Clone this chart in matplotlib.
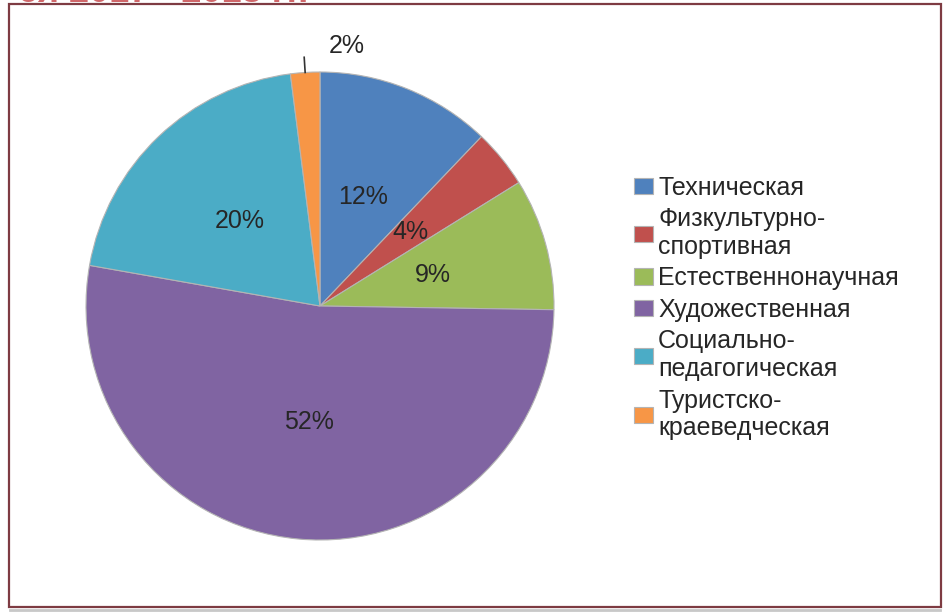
import numpy as np
import matplotlib
matplotlib.use("Agg")
import matplotlib.pyplot as plt
from matplotlib.patches import Rectangle
from matplotlib.lines import Line2D

plt.rcParams["font.family"] = ["Liberation Sans", "DejaVu Sans"]

# доля направлений, %
categories = ["Техническая", "Физкультурно-\nспортивная", "Естественнонаучная",
              "Художественная", "Социально-\nпедагогическая", "Туристско-\nкраеведческая"]
shares = [12, 4, 9, 52, 20, 2]
colors = ["#4F81BD", "#C0504D", "#9BBB59", "#8064A2", "#4BACC6", "#F79646"]

W, H = 947, 613
FS = 18
fig = plt.figure(figsize=(W / 100, H / 100), dpi=100)
fig.patch.set_facecolor("white")

# рамка слайда
fig.add_artist(Rectangle((9 / W, 1 - 607 / H), 932 / W, 603 / H,
                         transform=fig.transFigure, fill=False,
                         edgecolor="#7E3B42", lw=1.6))
fig.add_artist(Line2D([10 / W, 940 / W], [1 - 609.5 / H] * 2,
                      transform=fig.transFigure, color="#C8C8C8", lw=2))
# заголовок выше рамки (срезан краем)
fig.text(18 / W, 1 - 1.5 / H, "ся 2017 - 2018 гг.", color="#D0676A",
         fontsize=26, fontweight="bold", va="baseline", ha="left")

cx, cy, r = 320, 306, 234
ax = fig.add_axes([(cx - r) / W, (H - cy - r) / H, 2 * r / W, 2 * r / H])
ax.axis("off")

wedges, texts, autotexts = ax.pie(
    shares, colors=colors, startangle=90, counterclock=False,
    autopct=lambda p: f"{p * sum(shares) / 100:.0f}%", pctdistance=0.5,
    wedgeprops=dict(edgecolor="#B4B4B4", linewidth=0.8),
    textprops=dict(fontsize=FS, color="#262626"), radius=1.0, frame=False)
ax.set_xlim(-1, 1)
ax.set_ylim(-1, 1)
ax.set_aspect("equal")

# маленький сектор: подпись снаружи с выноской
w = wedges[-1]
mid = np.deg2rad((w.theta1 + w.theta2) / 2)
x0, y0 = np.cos(mid), np.sin(mid)
x1, y1 = x0 * 1.065, y0 * 1.065
ax.plot([x0, x1], [y0, y1], color="#333333", lw=1.2, clip_on=False)
autotexts[-1].set_position((x1 + 0.18, y1 + 0.05))
autotexts[-1].set_ha("center")
autotexts[-1].set_va("center")
autotexts[-1].set_clip_on(False)

leg = fig.legend(wedges, categories, loc="center left",
                 bbox_to_anchor=(611 / W, 1 - 308 / H), frameon=False,
                 fontsize=FS, handlelength=0.78, handleheight=0.62,
                 handletextpad=0.2, labelspacing=0.3, labelcolor="#262626")
for t in leg.get_texts():
    t.set_linespacing(1.2)

fig.savefig("out.png", dpi=100)
